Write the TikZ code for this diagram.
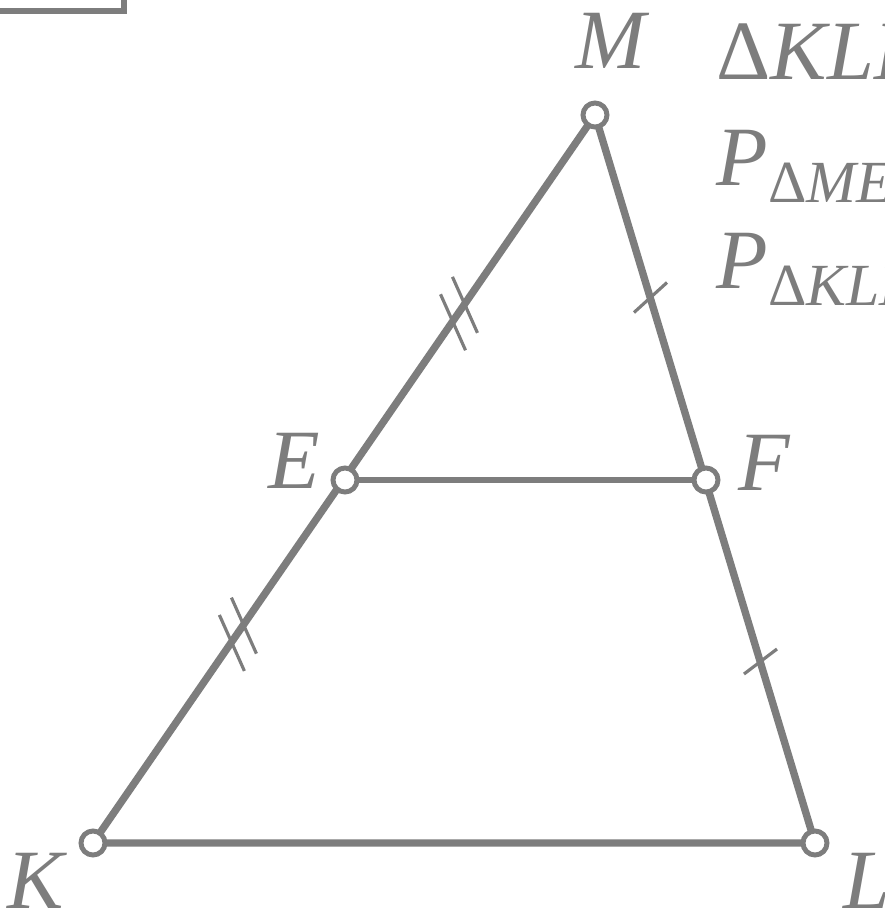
\documentclass[tikz,border=0pt]{standalone}
\usepackage{fontspec}
\setmainfont{Liberation Serif}
\usetikzlibrary{calc}
\definecolor{ink}{RGB}{125,125,125}
\newcommand{\subtx}[1]{\raisebox{-5pt}{\fontsize{17}{20}\selectfont #1}}
\begin{document}
\begin{tikzpicture}[x=0.01cm,y=-0.01cm,
  side/.style={draw=ink,line width=2.1pt},
  midline/.style={draw=ink,line width=1.5pt},
  vtx/.style={circle,draw=ink,fill=white,line width=1.4pt,minimum size=0.24cm,inner sep=0pt},
  lbl/.style={text=ink,font=\fontsize{24}{28}\selectfont\itshape,inner sep=0pt},
  tick/.style={draw=ink,line width=0.9pt}]
\useasboundingbox (0,0) rectangle (885,914);
\clip (0,0) rectangle (885,914);
% corner of a frame at top left
\draw[ink,line width=1.6pt] (0,11) -- (124,11) -- (124,0);
% vertices
\coordinate (Mc) at (595,115);
\coordinate (Ec) at (345,480);
\coordinate (Fc) at (706,480);
\coordinate (Kc) at (93,843);
\coordinate (Lc) at (815,843);
% sides
\draw[side] (Kc) -- (Mc) -- (Lc) -- cycle;
\draw[midline] (Ec) -- (Fc);
% tick marks
\path (Ec) -- (Mc) coordinate[pos=0.456] (t1);
\path (Kc) -- (Ec) coordinate[pos=0.575] (t2);
\path (Mc) -- (Fc) coordinate[pos=0.5] (t3);
\path (Fc) -- (Lc) coordinate[pos=0.5] (t4);
\foreach \p/\b in {t1/Mc,t2/Ec}{
  \coordinate (pa) at ($(\p)!3pt!(\b)$);
  \coordinate (pb) at ($(\p)!-3pt!(\b)$);
  \draw[tick] ($(pa)+(-12.5,-28)$) -- ($(pa)+(12.5,28)$);
  \draw[tick] ($(pb)+(-12.5,-28)$) -- ($(pb)+(12.5,28)$);
}
\draw[tick] ($(t3)+(-16.5,15)$) -- ($(t3)+(16.5,-15)$);
\draw[tick] ($(t4)+(-16.5,12.5)$) -- ($(t4)+(16.5,-12.5)$);
% vertex circles
\node[vtx] (M) at (Mc) {};
\node[vtx] (E) at (Ec) {};
\node[vtx] (F) at (Fc) {};
\node[vtx] (K) at (Kc) {};
\node[vtx] (L) at (Lc) {};
% labels
\node[lbl,anchor=base] (lM) at (611,68) {M};
\node[lbl,anchor=base] (lE) at (294,488) {E};
\node[lbl,anchor=base] (lF) at (764,490) {F};
\node[lbl,anchor=base] (lK) at (36,908) {K};
\node[lbl,anchor=base west] (lL) at (843,908) {L};
% text at right (cut by the edge, as in the reference)
\node[lbl,anchor=base west] (t1txt) at (716,79) {{\upshape Δ}KLM};
\node[lbl,anchor=base west] (t2txt) at (716,185) {P\subtx{{\upshape Δ}MEF}};
\node[lbl,anchor=base west] (t3txt) at (716,288) {P\subtx{{\upshape Δ}KLM}};
\end{tikzpicture}
\end{document}
